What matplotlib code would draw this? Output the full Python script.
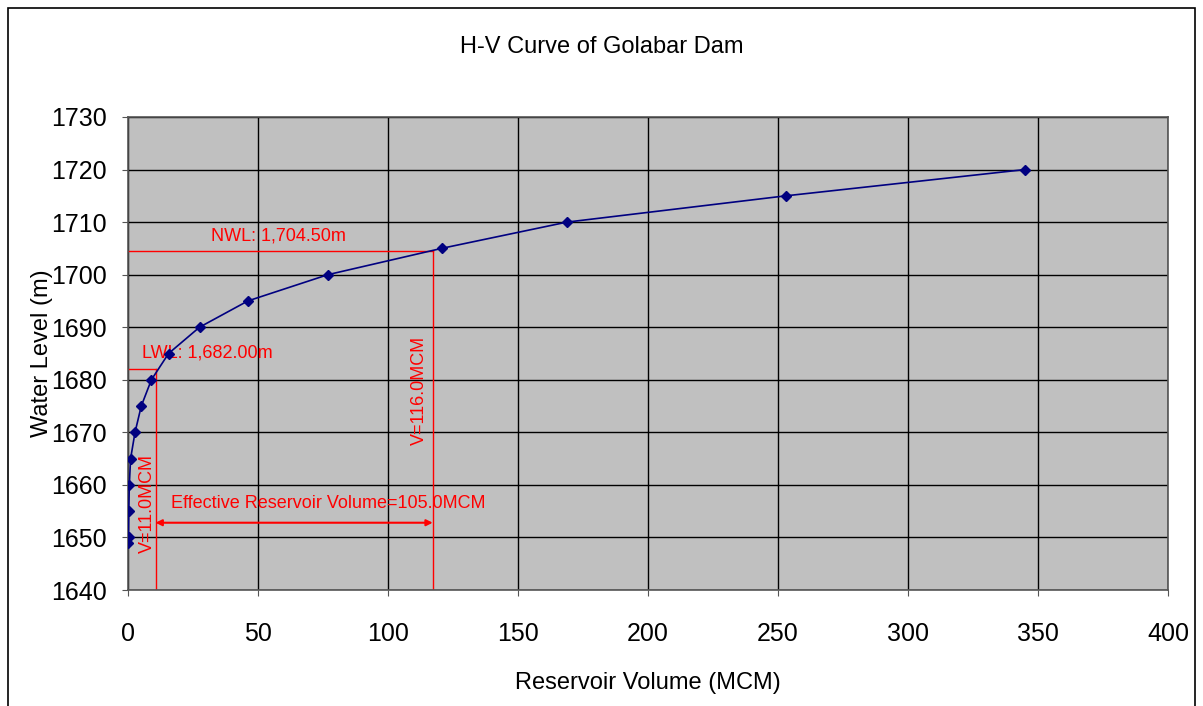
import matplotlib
matplotlib.use("Agg")
import matplotlib.pyplot as plt
from matplotlib.patches import Rectangle

plt.rcParams['font.family'] = ['Liberation Sans', 'DejaVu Sans']

volume = [0.1, 0.2, 0.3, 0.5, 1.0, 2.7, 5.1, 9.0, 15.6, 27.5, 46.1, 76.9, 120.6, 168.8, 253.0, 345.0]
level = [1649, 1650, 1655, 1660, 1665, 1670, 1675, 1680, 1685, 1690, 1695, 1700, 1705, 1710, 1715, 1720]

lwl_level, lwl_vol = 1682.0, 10.6
nwl_level, nwl_vol = 1704.5, 117.2
arrow_level = 1652.8

xticks = [0, 50, 100, 150, 200, 250, 300, 350, 400]
yticks = [1640, 1650, 1660, 1670, 1680, 1690, 1700, 1710, 1720, 1730]

fig = plt.figure(figsize=(12.03, 7.06), dpi=100)
fig.patch.set_facecolor('white')
fig.add_artist(Rectangle((8/1203, -0.01), (1195-8)/1203, 1-8/706+0.01,
                         transform=fig.transFigure, fill=False, edgecolor='black', lw=1.2))

ax = fig.add_axes([128/1203, 1-590/706, (1168-128)/1203, (590-117)/706])
ax.set_facecolor('#C0C0C0')
ax.set_xlim(0, 400)
ax.set_ylim(1640, 1730)
ax.set_xticks(xticks)
ax.set_yticks(yticks)
ax.grid(True, color='black', lw=1)
ax.set_axisbelow(True)
for s in ax.spines.values():
    s.set_color('#555555')
    s.set_linewidth(1.2)
ax.tick_params(axis='both', labelsize=18, length=4, direction='out', color='#555555')
ax.tick_params(axis='x', pad=19)
ax.tick_params(axis='y', pad=11)

red = '#FF0000'
ax.plot([0, lwl_vol], [lwl_level, lwl_level], color=red, lw=1)
ax.plot([lwl_vol, lwl_vol], [1640, lwl_level], color=red, lw=1)
ax.plot([0, nwl_vol], [nwl_level, nwl_level], color=red, lw=1)
ax.plot([nwl_vol, nwl_vol], [1640, nwl_level], color=red, lw=1)
ax.annotate('', xy=(lwl_vol, arrow_level), xytext=(nwl_vol, arrow_level),
            arrowprops=dict(arrowstyle='<|-|>', color=red, lw=1.5, mutation_scale=9, shrinkA=0, shrinkB=0))

ax.plot(volume, level, color='#000080', lw=1.2, marker='D', markersize=5, zorder=5)

ax.text(32, 1707.3, 'NWL: 1,704.50m', color=red, fontsize=13, ha='left', va='center')
ax.text(5.5, 1685, 'LWL: 1,682.00m', color=red, fontsize=13, ha='left', va='center')
ax.text(16.5, 1656.4, 'Effective Reservoir Volume=105.0MCM', color=red, fontsize=13, ha='left', va='center')
ax.text(7.3, 1656.5, 'V=11.0MCM', color=red, fontsize=13, rotation=90, ha='center', va='center')
ax.text(112, 1678, 'V=116.0MCM', color=red, fontsize=13, rotation=90, ha='center', va='center')

ax.set_xlabel('Reservoir Volume (MCM)', fontsize=17, labelpad=19)
ax.set_ylabel('Water Level (m)', fontsize=17)
ax.yaxis.set_label_coords((53-128)/1040, 0.5)
fig.text(0.5, 1-47/706, 'H-V Curve of Golabar Dam', fontsize=17, ha='center', va='center')

fig.savefig('out.png', dpi=100)
